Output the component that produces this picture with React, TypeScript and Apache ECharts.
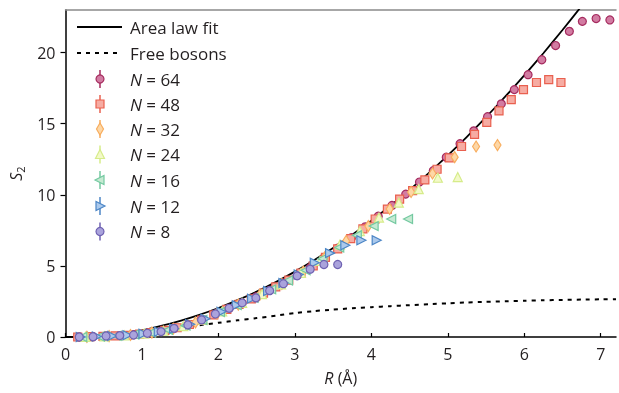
import React, { useEffect, useRef } from "react";
import * as echarts from "echarts";

// ---- Data ----
const fitR = [0, 0.25, 0.5, 0.75, 1, 1.25, 1.5, 1.75, 2, 2.25, 2.5, 2.75, 3, 3.25, 3.5, 3.75, 4, 4.25, 4.5, 4.75, 5, 5.25, 5.5, 5.75, 6, 6.25, 6.5, 6.75];
const fitS = [0, 0.02, 0.1, 0.26, 0.47, 0.78, 1.14, 1.56, 2.04, 2.59, 3.19, 3.86, 4.6, 5.4, 6.26, 7.19, 8.18, 9.23, 10.35, 11.53, 12.78, 14.08, 15.46, 16.9, 18.4, 19.96, 21.59, 23.28];

const freeR = [0, 0.25, 0.5, 0.75, 1, 1.25, 1.5, 1.75, 2, 2.25, 2.5, 2.75, 3, 3.25, 3.5, 3.75, 4, 4.25, 4.5, 4.75, 5, 5.25, 5.5, 5.75, 6, 6.25, 6.5, 6.75, 7, 7.2];
const freeS = [0, 0.02, 0.08, 0.18, 0.32, 0.48, 0.66, 0.83, 1.0, 1.17, 1.33, 1.5, 1.68, 1.82, 1.93, 2.02, 2.1, 2.17, 2.24, 2.31, 2.37, 2.43, 2.47, 2.51, 2.55, 2.58, 2.61, 2.63, 2.65, 2.66];

const r64 = [0.18, 0.36, 0.53, 0.71, 0.89, 1.07, 1.25, 1.42, 1.6, 1.78, 1.96, 2.14, 2.31, 2.49, 2.67, 2.85, 3.03, 3.2, 3.38, 3.56, 3.74, 3.92, 4.09, 4.27, 4.45, 4.63, 4.81, 4.98, 5.16, 5.34, 5.52, 5.7, 5.87, 6.05, 6.23, 6.41, 6.59, 6.76, 6.94, 7.12];
const s64 = [0.0, 0.02, 0.06, 0.1, 0.16, 0.27, 0.41, 0.6, 0.85, 1.18, 1.6, 2.02, 2.4, 2.82, 3.28, 3.8, 4.34, 4.88, 5.55, 6.25, 6.98, 7.75, 8.5, 9.25, 10.05, 10.9, 11.7, 12.65, 13.6, 14.5, 15.5, 16.4, 17.4, 18.45, 19.5, 20.5, 21.5, 22.2, 22.4, 22.3];

const r48 = [0.16, 0.32, 0.49, 0.65, 0.81, 0.97, 1.13, 1.3, 1.46, 1.62, 1.78, 1.94, 2.11, 2.27, 2.43, 2.59, 2.75, 2.92, 3.08, 3.24, 3.4, 3.56, 3.73, 3.89, 4.05, 4.21, 4.37, 4.54, 4.7, 4.86, 5.02, 5.18, 5.35, 5.51, 5.67, 5.83, 5.99, 6.16, 6.32, 6.48];
const s48 = [0.0, 0.02, 0.05, 0.08, 0.12, 0.2, 0.31, 0.46, 0.65, 0.88, 1.18, 1.55, 1.95, 2.3, 2.68, 3.08, 3.52, 4.0, 4.5, 5.0, 5.6, 6.2, 6.92, 7.6, 8.3, 9.0, 9.7, 10.3, 11.05, 11.8, 12.6, 13.4, 14.25, 15.1, 15.9, 16.7, 17.4, 17.9, 18.1, 17.9];

const r32 = [0.28, 0.57, 0.85, 1.13, 1.41, 1.7, 1.98, 2.26, 2.54, 2.83, 3.11, 3.39, 3.67, 3.96, 4.24, 4.52, 4.8, 5.09, 5.37, 5.65];
const s32 = [0.01, 0.06, 0.14, 0.31, 0.58, 1.02, 1.65, 2.28, 2.95, 3.73, 4.6, 5.6, 6.75, 7.8, 9.0, 10.2, 11.5, 12.65, 13.4, 13.5];

const r24 = [0.26, 0.51, 0.77, 1.03, 1.28, 1.54, 1.8, 2.05, 2.31, 2.57, 2.82, 3.08, 3.33, 3.59, 3.85, 4.1, 4.36, 4.62, 4.87, 5.13];
const s24 = [0.01, 0.05, 0.11, 0.24, 0.44, 0.76, 1.22, 1.8, 2.4, 3.02, 3.7, 4.5, 5.35, 6.5, 7.45, 8.4, 9.45, 10.4, 11.2, 11.25];

const r16 = [0.22, 0.45, 0.67, 0.9, 1.12, 1.34, 1.57, 1.79, 2.02, 2.24, 2.46, 2.69, 2.91, 3.14, 3.36, 3.58, 3.81, 4.03, 4.26, 4.48];
const s16 = [0.0, 0.04, 0.09, 0.17, 0.3, 0.5, 0.8, 1.2, 1.75, 2.24, 2.75, 3.35, 3.98, 4.7, 5.5, 6.3, 7.15, 7.8, 8.3, 8.3];

const r12 = [0.2, 0.41, 0.61, 0.81, 1.02, 1.22, 1.42, 1.63, 1.83, 2.04, 2.24, 2.44, 2.65, 2.85, 3.05, 3.26, 3.46, 3.66, 3.87, 4.07];
const s12 = [0.0, 0.03, 0.07, 0.12, 0.23, 0.37, 0.58, 0.9, 1.28, 1.78, 2.24, 2.7, 3.23, 3.8, 4.4, 5.22, 5.9, 6.45, 6.8, 6.8];

const r8 = [0.18, 0.36, 0.53, 0.71, 0.89, 1.07, 1.25, 1.42, 1.6, 1.78, 1.96, 2.14, 2.31, 2.49, 2.67, 2.85, 3.03, 3.2, 3.38, 3.56];
const s8 = [0.0, 0.02, 0.07, 0.1, 0.14, 0.26, 0.38, 0.61, 0.85, 1.2, 1.62, 2.02, 2.4, 2.75, 3.26, 3.75, 4.3, 4.77, 5.1, 5.1];

const xTicks = [0, 1, 2, 3, 4, 5, 6, 7];
const yTicks = [0, 5, 10, 15, 20];

const FONT = "Open Sans";
const TXT = "#231f20";

type Meta = { label: string; r: number[]; s: number[]; fill: string; stroke: string; shape: string };
const groups: Meta[] = [
  { label: "64", r: r64, s: s64, fill: "#d27ca2", stroke: "#a52a5e", shape: "circle" },
  { label: "48", r: r48, s: s48, fill: "#f6aca3", stroke: "#e9604f", shape: "rect" },
  { label: "32", r: r32, s: s32, fill: "#fdd7a6", stroke: "#f8ad5e", shape: "diamond" },
  { label: "24", r: r24, s: s24, fill: "#f3f9c8", stroke: "#d6ec8a", shape: "up" },
  { label: "16", r: r16, s: s16, fill: "#c6ead2", stroke: "#74c9a1", shape: "left" },
  { label: "12", r: r12, s: s12, fill: "#abc9ec", stroke: "#4c86c6", shape: "right" },
  { label: "8", r: r8, s: s8, fill: "#aaa3dc", stroke: "#6f62b2", shape: "circle" },
];

function symbolFor(shape: string) {
  switch (shape) {
    case "circle": return { symbol: "circle", symbolSize: 8, symbolRotate: 0 };
    case "rect": return { symbol: "rect", symbolSize: 8, symbolRotate: 0 };
    case "diamond": return { symbol: "diamond", symbolSize: [7, 11], symbolRotate: 0 };
    case "up": return { symbol: "triangle", symbolSize: 9, symbolRotate: 0 };
    case "left": return { symbol: "triangle", symbolSize: 9, symbolRotate: 90 };
    default: return { symbol: "triangle", symbolSize: 9, symbolRotate: -90 };
  }
}

function legendMarker(shape: string, cx: number, cy: number, fill: string, stroke: string) {
  const style = { fill, stroke, lineWidth: 1.2 };
  switch (shape) {
    case "circle": return { type: "circle", shape: { cx, cy, r: 4 }, style, z: 101 };
    case "rect": return { type: "rect", shape: { x: cx - 4, y: cy - 4, width: 8, height: 8 }, style, z: 101 };
    case "diamond": return { type: "polygon", shape: { points: [[cx, cy - 6], [cx + 3.5, cy], [cx, cy + 6], [cx - 3.5, cy]] }, style, z: 101 };
    case "up": return { type: "polygon", shape: { points: [[cx, cy - 5], [cx + 4.5, cy + 4], [cx - 4.5, cy + 4]] }, style, z: 101 };
    case "left": return { type: "polygon", shape: { points: [[cx - 5, cy], [cx + 4, cy - 4.5], [cx + 4, cy + 4.5]] }, style, z: 101 };
    default: return { type: "polygon", shape: { points: [[cx + 5, cy], [cx - 4, cy - 4.5], [cx - 4, cy + 4.5]] }, style, z: 101 };
  }
}

export default function App() {
  const ref = useRef<HTMLDivElement>(null);

  useEffect(() => {
    if (!ref.current) return;
    const chart = echarts.init(ref.current, null, { renderer: "svg" });

    const rowY = [79, 104, 129, 154.5, 180, 206, 231.5];
    const graphics: any[] = [
      { type: "line", shape: { x1: 77, y1: 27, x2: 122, y2: 27 }, style: { stroke: "#000", lineWidth: 2 }, z: 100 },
      { type: "text", x: 130, y: 27, style: { text: "Area law fit", fontSize: 17, fontFamily: FONT, fill: TXT, verticalAlign: "middle" }, z: 100 },
      { type: "line", shape: { x1: 77, y1: 53, x2: 122, y2: 53 }, style: { stroke: "#000", lineWidth: 2, lineDash: [4, 5] }, z: 100 },
      { type: "text", x: 130, y: 53, style: { text: "Free bosons", fontSize: 17, fontFamily: FONT, fill: TXT, verticalAlign: "middle" }, z: 100 },
    ];
    groups.forEach((g, i) => {
      const y = rowY[i];
      graphics.push({ type: "line", shape: { x1: 100, y1: y - 9, x2: 100, y2: y + 9 }, style: { stroke: g.stroke, lineWidth: 1.5 }, z: 100 });
      graphics.push(legendMarker(g.shape, 100, y, g.fill, g.stroke));
      graphics.push({
        type: "text", x: 130, y,
        style: {
          text: "{i|N} = " + g.label,
          fontSize: 17, fontFamily: FONT, fill: TXT, verticalAlign: "middle",
          rich: { i: { fontStyle: "italic", fontSize: 17, fontFamily: FONT, fill: TXT } },
        },
        z: 100,
      });
    });

    const scatterSeries = groups.map((g) => ({
      type: "scatter",
      name: "N = " + g.label,
      data: g.r.map((r, i) => [r, g.s[i]]),
      ...symbolFor(g.shape),
      itemStyle: { color: g.fill, borderColor: g.stroke, borderWidth: 1.2, opacity: 1 },
      z: 3,
    }));

    chart.setOption({
      animation: false,
      grid: { left: 62, right: 3, top: 10, bottom: 56 },
      textStyle: { fontFamily: FONT },
      xAxis: [
        {
          type: "value", min: 0, max: 7.2, interval: 1,
          name: "{i|R} (Å)", nameLocation: "middle", nameGap: 33,
          nameTextStyle: { fontSize: 16, color: TXT, fontFamily: FONT, rich: { i: { fontStyle: "italic", fontSize: 16, color: TXT, fontFamily: FONT } } },
          axisLine: { lineStyle: { color: "#000", width: 1.5 } },
          axisTick: { inside: true, length: 4, lineStyle: { color: "#000", width: 1.2 }, customValues: xTicks },
          axisLabel: { fontSize: 16, color: TXT, margin: 9, fontFamily: FONT, customValues: xTicks },
          splitLine: { show: false },
        },
        {
          type: "value", position: "top", min: 0, max: 7.2,
          axisLine: { show: true, lineStyle: { color: "#8a8a8a", width: 1.5 } },
          axisTick: { show: false }, axisLabel: { show: false }, splitLine: { show: false },
        },
      ],
      yAxis: {
        type: "value", min: 0, max: 23, interval: 5,
        name: "{i|S}{sub|2}", nameLocation: "middle", nameGap: 40, nameRotate: 90,
        nameTextStyle: {
          fontSize: 16, color: TXT, fontFamily: FONT,
          rich: {
            i: { fontStyle: "italic", fontSize: 16, color: TXT, fontFamily: FONT },
            sub: { fontSize: 11, color: TXT, fontFamily: FONT, verticalAlign: "bottom", padding: [8, 0, 0, 0] },
          },
        },
        axisLine: { show: true, lineStyle: { color: "#000", width: 1.5 } },
        axisTick: { show: true, inside: false, length: 5, lineStyle: { color: "#000", width: 1.2 }, customValues: yTicks },
        axisLabel: { fontSize: 16, color: TXT, margin: 10, fontFamily: FONT, customValues: yTicks },
        splitLine: { show: false },
      },
      graphic: graphics,
      series: [
        {
          type: "line", name: "Area law fit", data: fitR.map((r, i) => [r, fitS[i]]),
          showSymbol: false, smooth: 0.2, lineStyle: { color: "#000", width: 1.8 }, z: 2,
        },
        {
          type: "line", name: "Free bosons", data: freeR.map((r, i) => [r, freeS[i]]),
          showSymbol: false, smooth: 0.2, lineStyle: { color: "#000", width: 2, type: [4, 5] }, z: 2,
        },
        ...scatterSeries,
      ],
    });

    return () => chart.dispose();
  }, []);

  return <div ref={ref} style={{ position: "fixed", left: 0, top: 0, width: 619, height: 393 }} />;
}
